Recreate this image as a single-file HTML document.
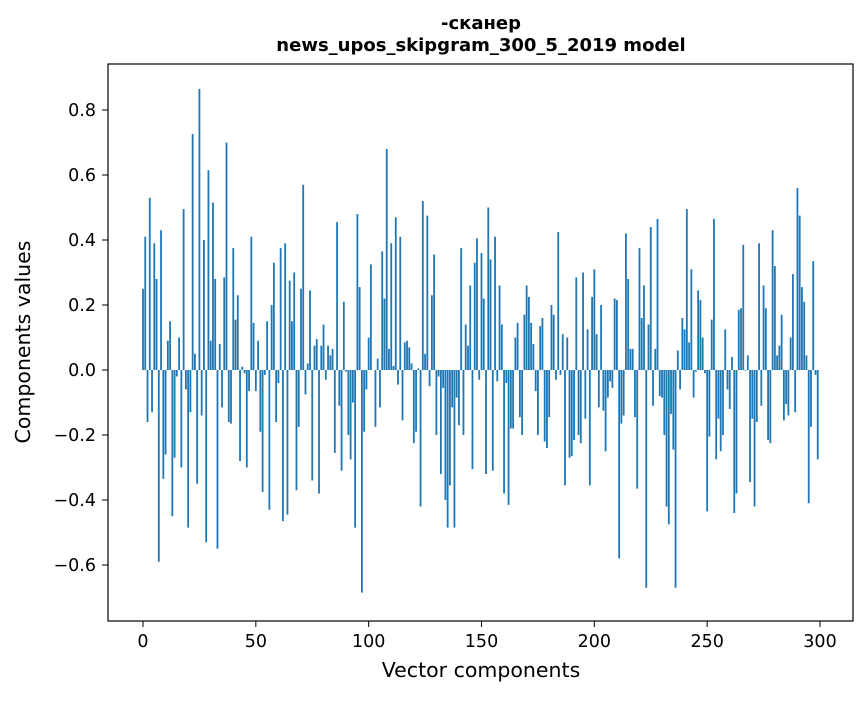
<!DOCTYPE html>
<html><head><meta charset="utf-8"><style>
body{margin:0;background:#fff;}
svg text{font-family:"DejaVu Sans","Liberation Sans",sans-serif;fill:#000;}
</style></head><body>
<svg id="chart" width="867" height="696" xmlns="http://www.w3.org/2000/svg">
<rect x="0" y="0" width="867" height="696" fill="#fff"/>
<text x="481" y="29" text-anchor="middle" font-size="18" font-weight="bold">-сканер</text>
<text x="481" y="51" text-anchor="middle" font-size="18" font-weight="bold">news_upos_skipgram_300_5_2019 model</text>
<g id="bars"></g>
<g id="axes"></g>
<rect x="108" y="64" width="745" height="557" fill="none" stroke="#000" stroke-width="1.2"/>
<text x="481" y="677" text-anchor="middle" font-size="20.5">Vector components</text>
<text transform="translate(30,342) rotate(-90)" text-anchor="middle" font-size="20.5">Components values</text>
</svg>
<script>
const values = [
0.25,0.41,-0.16,0.53,-0.13,0.39,0.28,-0.59,0.43,-0.335,
-0.26,0.09,0.15,-0.45,-0.27,-0.02,0.1,-0.3,0.495,-0.06,
-0.485,-0.13,0.726,0.05,-0.35,0.865,-0.14,0.4,-0.53,0.615,
0.09,0.515,0.28,-0.55,0.08,-0.115,0.285,0.70,-0.16,-0.165,
0.375,0.155,0.23,-0.28,0.01,-0.01,-0.3,-0.065,0.41,0.145,
-0.065,0.09,-0.19,-0.375,-0.015,0.15,-0.43,0.2,0.33,-0.16,
-0.04,0.375,-0.465,0.39,-0.445,0.275,0.15,0.3,-0.37,-0.175,
0.25,0.57,-0.075,0.02,0.245,-0.34,0.075,0.095,-0.38,0.075,
0.14,-0.03,0.075,0.045,0.065,-0.255,0.455,-0.11,-0.31,0.21,
-0.005,-0.2,-0.275,-0.1,-0.485,0.48,0.255,-0.685,-0.19,-0.06,
0.1,0.325,0.0,-0.175,0.035,-0.115,0.365,0.22,0.68,0.065,
0.39,0.012,0.47,-0.045,0.41,-0.155,0.085,0.09,0.07,0.02,
-0.225,-0.19,0.005,-0.42,0.52,0.05,0.475,-0.05,0.23,0.355,
-0.2,-0.02,-0.32,-0.055,-0.4,-0.485,-0.355,-0.115,-0.485,-0.085,
-0.17,0.375,-0.2,0.14,0.075,0.26,-0.305,0.33,0.405,-0.03,
0.36,0.22,-0.32,0.5,0.34,-0.31,0.41,-0.035,0.26,0.14,
-0.38,-0.04,-0.415,-0.18,-0.18,0.1,0.145,-0.145,-0.2,0.17,
0.26,0.225,0.145,0.08,-0.065,-0.2,0.135,0.16,-0.22,-0.24,
-0.145,0.2,0.17,-0.03,0.425,-0.015,0.11,-0.355,0.1,-0.27,
-0.265,-0.215,0.285,-0.2,-0.225,0.3,-0.15,0.125,-0.355,0.225,
0.31,0.11,-0.115,0.2,-0.125,-0.25,-0.085,-0.035,-0.055,0.22,
0.215,-0.58,-0.165,-0.14,0.42,0.28,0.065,0.065,-0.145,-0.365,
0.375,0.16,0.26,-0.67,0.14,0.44,-0.11,0.065,0.465,-0.08,
-0.085,-0.2,-0.42,-0.475,-0.135,-0.245,-0.67,0.06,-0.06,0.16,
0.125,0.495,0.085,0.31,-0.085,-0.005,0.245,0.215,0.1,-0.01,
-0.435,-0.205,0.155,0.465,-0.275,-0.15,-0.25,-0.2,0.125,-0.06,
-0.12,0.04,-0.44,-0.38,0.185,0.19,0.385,-0.002,0.045,-0.345,
-0.15,-0.42,-0.16,0.39,-0.11,0.26,0.19,-0.215,-0.225,0.43,
0.32,0.045,0.075,0.17,-0.155,-0.105,-0.14,0.1,0.295,-0.13,
0.56,0.475,0.255,0.21,0.045,-0.41,-0.175,0.335,-0.015,-0.275
];
const xTicks = [0,50,100,150,200,250,300];
const yTicks = [-0.6,-0.4,-0.2,0.0,0.2,0.4,0.6,0.8];
const yTickLabels = ["\u22120.6","\u22120.4","\u22120.2","0.0","0.2","0.4","0.6","0.8"];

const NS="http://www.w3.org/2000/svg";
const xs = v => 143 + (v)*(677/300);
const ys = v => 370 - v*325;
const bars=document.getElementById('bars');
values.forEach((v,i)=>{
  const r=document.createElementNS(NS,'rect');
  const w=0.8*(677/300);
  r.setAttribute('x',xs(i)-w/2);
  r.setAttribute('width',w);
  r.setAttribute('y',Math.min(ys(v),ys(0)));
  r.setAttribute('height',Math.abs(ys(v)-ys(0)));
  r.setAttribute('fill','#1f77b4');
  
  
  bars.appendChild(r);
});
const axes=document.getElementById('axes');
xTicks.forEach(t=>{
  const l=document.createElementNS(NS,'line');
  l.setAttribute('x1',xs(t));l.setAttribute('x2',xs(t));
  l.setAttribute('y1',621);l.setAttribute('y2',627);
  l.setAttribute('stroke','#000');
  
  
  axes.appendChild(l);
  const tx=document.createElementNS(NS,'text');
  tx.setAttribute('x',xs(t));tx.setAttribute('y',647);
  tx.setAttribute('text-anchor','middle');tx.setAttribute('font-size','17.5');
  tx.textContent=String(t);
  
  
  axes.appendChild(tx);
});
yTicks.forEach((t,k)=>{
  const l=document.createElementNS(NS,'line');
  l.setAttribute('x1',102);l.setAttribute('x2',108);
  l.setAttribute('y1',ys(t));l.setAttribute('y2',ys(t));
  l.setAttribute('stroke','#000');
  
  
  axes.appendChild(l);
  const tx=document.createElementNS(NS,'text');
  tx.setAttribute('x',96);tx.setAttribute('y',ys(t)+6);
  tx.setAttribute('text-anchor','end');tx.setAttribute('font-size','17.5');
  tx.textContent=yTickLabels[k];
  
  
  axes.appendChild(tx);
});
</script>
</body></html>
